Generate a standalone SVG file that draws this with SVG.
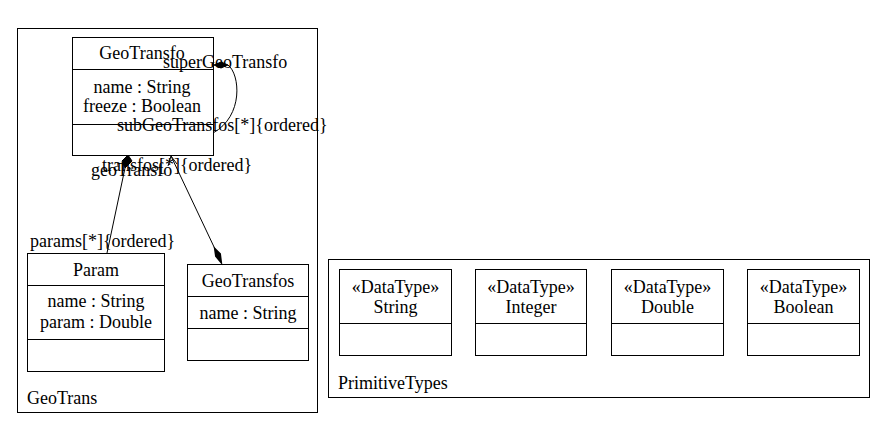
<svg xmlns="http://www.w3.org/2000/svg" width="885" height="429" viewBox="0 0 885 429">
<style>
.box{fill:#fff;stroke:#000;stroke-width:1}
.sep{stroke:#000;stroke-width:1}
text{font-family:"Liberation Serif","Times New Roman",serif;font-size:18px;fill:#000}
.c{text-anchor:middle}
.edge{fill:none;stroke:#000;stroke-width:1}
</style>
<rect width="885" height="429" fill="#fff"/>
<g id="pkg-GeoTrans">
<rect class="box" x="17.5" y="28.5" width="300" height="384"/>
<text x="27" y="404">GeoTrans</text>
</g>
<g id="pkg-PrimitiveTypes">
<rect class="box" x="328.5" y="259.5" width="541" height="138"/>
<text x="338" y="389">PrimitiveTypes</text>
</g>
<g id="GeoTransfo">
<rect class="box" x="72.5" y="37.5" width="141" height="118"/>
<line class="sep" x1="72.5" y1="69.5" x2="213.5" y2="69.5"/>
<line class="sep" x1="72.5" y1="124.5" x2="213.5" y2="124.5"/>
<text class="c" x="142" y="59">GeoTransfo</text>
<text class="c" x="142" y="93">name : String</text>
<text class="c" x="142" y="112">freeze : Boolean</text>
</g>
<g id="Param">
<rect class="box" x="27.5" y="253.5" width="137" height="118"/>
<line class="sep" x1="27.5" y1="285.5" x2="164.5" y2="285.5"/>
<line class="sep" x1="27.5" y1="339.5" x2="164.5" y2="339.5"/>
<text class="c" x="96" y="276">Param</text>
<text class="c" x="96" y="307">name : String</text>
<text class="c" x="96" y="328">param : Double</text>
</g>
<g id="GeoTransfos">
<rect class="box" x="187.5" y="264.5" width="121" height="96"/>
<line class="sep" x1="187.5" y1="296.5" x2="308.5" y2="296.5"/>
<line class="sep" x1="187.5" y1="328.5" x2="308.5" y2="328.5"/>
<text class="c" x="248" y="287">GeoTransfos</text>
<text class="c" x="248" y="319">name : String</text>
</g>
<g id="String">
<rect class="box" x="339.5" y="269.5" width="112" height="86"/>
<line class="sep" x1="339.5" y1="323.5" x2="451.5" y2="323.5"/>
<text class="c" x="395.5" y="293">«DataType»</text>
<text class="c" x="395.5" y="313">String</text>
</g>
<g id="Integer">
<rect class="box" x="475.5" y="269.5" width="111" height="86"/>
<line class="sep" x1="475.5" y1="323.5" x2="586.5" y2="323.5"/>
<text class="c" x="531" y="293">«DataType»</text>
<text class="c" x="531" y="313">Integer</text>
</g>
<g id="Double">
<rect class="box" x="611.5" y="269.5" width="112" height="86"/>
<line class="sep" x1="611.5" y1="323.5" x2="723.5" y2="323.5"/>
<text class="c" x="667.5" y="293">«DataType»</text>
<text class="c" x="667.5" y="313">Double</text>
</g>
<g id="Boolean">
<rect class="box" x="747.5" y="269.5" width="112" height="86"/>
<line class="sep" x1="747.5" y1="323.5" x2="859.5" y2="323.5"/>
<text class="c" x="803.5" y="293">«DataType»</text>
<text class="c" x="803.5" y="313">Boolean</text>
</g>
<g id="connectors">
<path class="edge" d="M228,65 C240,74 244,116 213,133"/>
<polygon points="214,65 221,62 228,65 221,68" fill="#000" stroke="#000"/>
<line class="edge" x1="107" y1="253" x2="125" y2="168"/>
<polygon points="128,155 132,161 125,168 122,161" fill="#000" stroke="#000"/>
<line class="edge" x1="171" y1="156" x2="215" y2="249"/>
<polyline class="edge" points="168,166 171,156 177,164"/>
<polygon points="221,262 216,256 215,249 220,254" fill="#000" stroke="#000" stroke-width="2"/>
<text x="163" y="68">superGeoTransfo</text>
<text x="117" y="131">subGeoTransfos[*]{ordered}</text>
<text x="102" y="171">transfos[*]{ordered}</text>
<text x="91" y="176">geoTransfo</text>
<text x="30" y="247">params[*]{ordered}</text>
</g>
</svg>
